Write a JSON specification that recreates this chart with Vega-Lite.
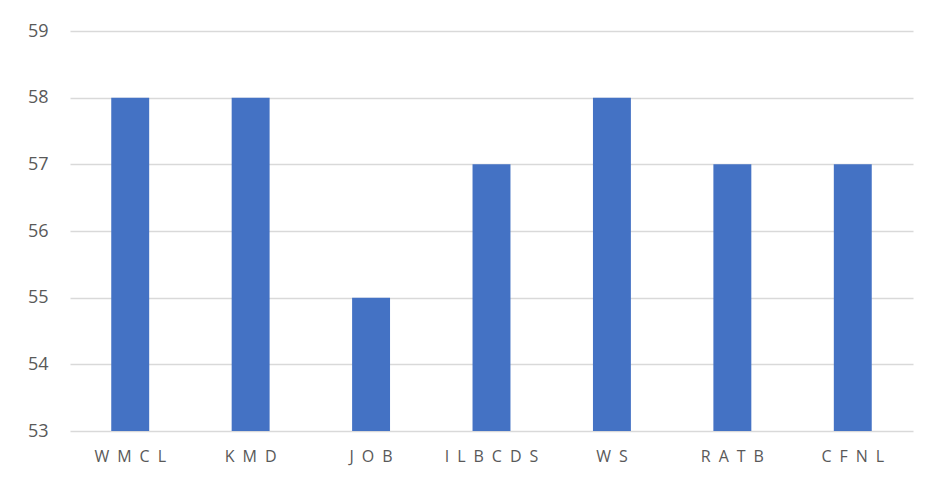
{
  "$schema": "https://vega.github.io/schema/vega-lite/v6.json",
  "width": 843,
  "height": 400,
  "autosize": {"type": "none"},
  "padding": {"left": 70, "top": 31, "right": 18, "bottom": 49},
  "background": "white",
  "config": {"view": {"stroke": null}},
  "data": {"values": [
    {"name": "W\u2002M\u2002C\u2002L", "value": 58},
    {"name": "K\u2002M\u2002D", "value": 58},
    {"name": "J\u2002O\u2002B", "value": 55},
    {"name": "I\u2002L\u2002B\u2002C\u2002D\u2002S", "value": 57},
    {"name": "W\u2002S", "value": 58},
    {"name": "R\u2002A\u2002T\u2002B", "value": 57},
    {"name": "C\u2002F\u2002N\u2002L", "value": 57}
  ]},
  "mark": {"type": "bar", "color": "#4472C4", "clip": true},
  "encoding": {
    "x": {
      "field": "name", "type": "nominal", "sort": null,
      "scale": {"paddingInner": 0.685},
      "axis": {"title": null, "labelAngle": 0, "domain": false, "ticks": false,
        "labelFont": "Open Sans", "labelFontSize": 16, "labelColor": "#595959", "labelPadding": 17}
    },
    "y": {
      "field": "value", "type": "quantitative",
      "scale": {"domain": [53, 59], "zero": false, "nice": false},
      "axis": {"title": null, "values": [53,54,55,56,57,58,59], "domain": false, "ticks": false,
        "labelOverlap": false, "labelFlush": false,
        "grid": true, "gridColor": "#d9d9d9", "gridWidth": 1.5,
        "labelFont": "Open Sans", "labelFontSize": 18, "labelColor": "#595959", "labelPadding": 22}
    }
  }
}
